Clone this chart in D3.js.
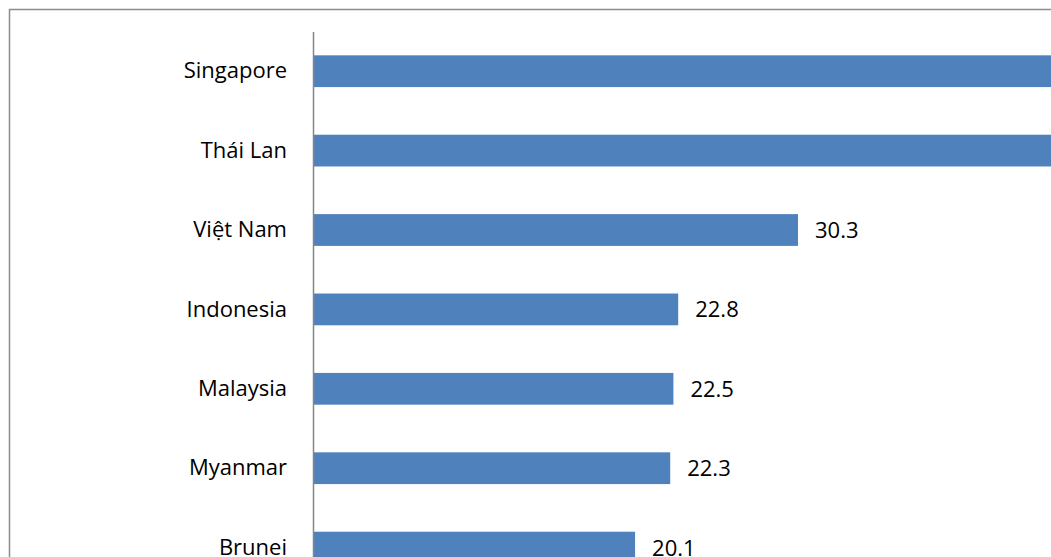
<!DOCTYPE html>
<html>
<head>
<meta charset="utf-8">
<script src="https://cdn.jsdelivr.net/npm/d3@7"></script>
<style>
  html, body { margin: 0; padding: 0; background: #fff; overflow: hidden; }
  svg { display: block; }
</style>
</head>
<body>
<script>
// Country names, top to bottom
const countries = ["Singapore", "Thái Lan", "Việt Nam", "Indonesia", "Malaysia", "Myanmar", "Brunei"];
// Values per country
const values = [58.4, 49.6, 30.3, 22.8, 22.5, 22.3, 20.1];

const W = 1051, H = 557;
const FONT = "'Open Sans', 'Liberation Sans', sans-serif";
const FS = 22;
const svg = d3.select("body").append("svg")
  .attr("width", W).attr("height", H)
  .style("font-family", FONT);

// Chart frame
svg.append("rect")
  .attr("x", 9.5).attr("y", 9.5)
  .attr("width", 1200).attr("height", 800)
  .attr("fill", "#fff")
  .attr("stroke", "#8c8c8c").attr("stroke-width", 1.5);

const x0 = 314;
const x = d3.scaleLinear().domain([0, 30.3]).range([x0, 798]);

const y = d3.scaleBand()
  .domain(countries)
  .range([31.5, 31.5 + 79.4 * countries.length])
  .paddingInner(0.6)
  .paddingOuter(0.3);

const g = svg.append("g");

g.selectAll("rect.bar")
  .data(countries)
  .join("rect")
  .attr("class", "bar")
  .attr("x", x(0))
  .attr("y", d => y(d))
  .attr("width", (d, i) => x(values[i]) - x(0))
  .attr("height", y.bandwidth())
  .attr("fill", "#4f81bd");

// Category axis
const axis = d3.axisLeft(y).tickSize(0).tickPadding(27);
const ax = svg.append("g")
  .attr("transform", `translate(${x0},0)`)
  .call(axis);
ax.select(".domain").remove();
ax.selectAll("text")
  .attr("font-size", FS)
  .attr("dy", "0.33em")
  .attr("fill", "#000")
  .style("font-family", FONT);

svg.append("line")
  .attr("x1", x0 - 0.5).attr("x2", x0 - 0.5)
  .attr("y1", 32).attr("y2", 700)
  .attr("stroke", "#868686").attr("stroke-width", 1.5);

// Value labels
g.selectAll("text.val")
  .data(countries)
  .join("text")
  .attr("class", "val")
  .attr("x", (d, i) => x(values[i]) + 17)
  .attr("y", d => y(d) + y.bandwidth() / 2)
  .attr("dy", "0.36em")
  .attr("font-size", FS)
  .attr("fill", "#000")
  .text((d, i) => values[i].toFixed(1));
</script>
</body>
</html>
